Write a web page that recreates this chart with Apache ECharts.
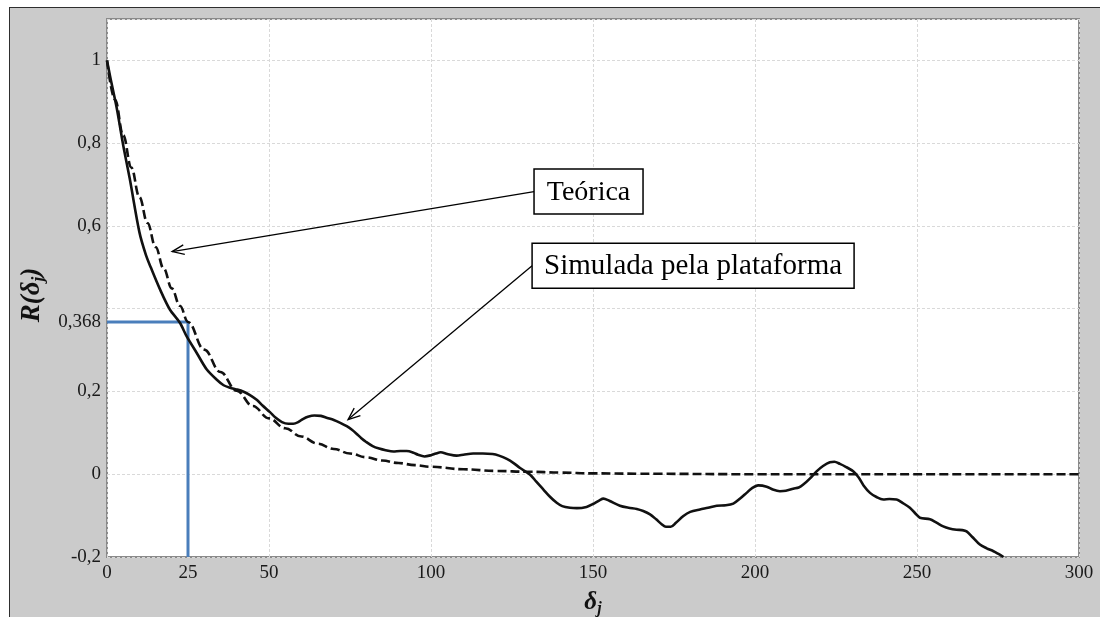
<!DOCTYPE html>
<html>
<head>
<meta charset="utf-8">
<script src="https://cdn.jsdelivr.net/npm/echarts@6/dist/echarts.min.js"></script>
<style>
  html, body { margin: 0; padding: 0; background: #fff; }
  #wrap { position: relative; width: 1100px; height: 617px; overflow: hidden; }
  #bg { position: absolute; left: 9px; top: 7px; right: -5px; bottom: -5px;
        background: #cbcbcb; border-left: 1px solid #2e2e2e; border-top: 1px solid #2e2e2e; }
  #chart { position: absolute; left: 0; top: 0; width: 1100px; height: 617px; }
</style>
</head>
<body>
<div id="wrap"><div id="bg"></div><div id="chart"></div></div>
<script>
// Autocorrelation R(δj): theoretical exponential decay vs. platform simulation
const lagTheory = [0, 2.5, 5, 7.5, 10, 12.5, 15, 17.5, 20, 22.5, 25, 30, 35, 40, 45, 50, 55, 60, 65, 70, 75, 80, 85, 90, 95, 100, 110, 120, 130, 140, 150, 170, 200, 250, 300];
const rTheory   = [1, 0.905, 0.819, 0.741, 0.670, 0.607, 0.549, 0.497, 0.449, 0.407, 0.368, 0.301, 0.247, 0.202, 0.165, 0.135, 0.111, 0.091, 0.074, 0.061, 0.050, 0.041, 0.033, 0.027, 0.022, 0.018, 0.012, 0.008, 0.006, 0.004, 0.002, 0.001, 0, 0, 0];

const lagSim = [0, 1, 3, 5, 7, 10, 12, 13.5, 16.4, 19.4, 22.5, 24.6, 27.7, 30.8, 33.8, 36, 38, 40, 42, 44, 46.2, 48, 50.3, 52, 54, 56, 57.5, 59, 60.6, 62, 64, 66, 68, 70, 72, 74, 75.5, 77, 78.5, 80, 82, 84, 86, 88.4, 90.5, 92.5, 94.6, 96, 98, 100, 101.5, 103, 105, 107.9, 110, 113, 116, 119, 121, 123.4, 125.5, 127.5, 130.6, 132.5, 134.7, 136.8, 138.8, 140.5, 142.9, 145, 148, 150, 152, 153.2, 155, 158.3, 161, 163.5, 165.5, 167.6, 169.5, 171.2, 172.5, 174, 175.5, 177.9, 180, 183, 185.5, 188.2, 191, 193.3, 195.5, 197.4, 199, 201, 203.6, 205.5, 207.7, 209.5, 211.8, 213.5, 214.9, 217, 219, 221, 223.1, 224.5, 226.2, 228, 230.3, 232, 233.5, 235.5, 237.5, 239.6, 241.5, 243.7, 245.5, 247.8, 249.5, 250.9, 254, 256, 258.1, 260, 262.2, 264, 265.3, 267, 269.4, 271.5, 273.6, 275, 276.7];
const rSim   = [1, 0.96, 0.885, 0.795, 0.715, 0.585, 0.53, 0.50, 0.446, 0.398, 0.366, 0.333, 0.293, 0.253, 0.229, 0.215, 0.209, 0.205, 0.200, 0.192, 0.180, 0.166, 0.150, 0.137, 0.126, 0.122, 0.122, 0.126, 0.134, 0.139, 0.142, 0.141, 0.136, 0.131, 0.124, 0.116, 0.108, 0.098, 0.087, 0.078, 0.068, 0.062, 0.058, 0.055, 0.056, 0.056, 0.052, 0.047, 0.043, 0.046, 0.050, 0.053, 0.049, 0.045, 0.047, 0.050, 0.050, 0.049, 0.045, 0.037, 0.027, 0.015, -0.001, -0.018, -0.037, -0.055, -0.069, -0.077, -0.081, -0.082, -0.079, -0.072, -0.063, -0.059, -0.064, -0.076, -0.081, -0.084, -0.089, -0.097, -0.109, -0.121, -0.127, -0.127, -0.118, -0.101, -0.091, -0.085, -0.081, -0.076, -0.075, -0.071, -0.058, -0.045, -0.034, -0.027, -0.030, -0.037, -0.041, -0.040, -0.035, -0.032, -0.025, -0.010, 0.007, 0.020, 0.029, 0.030, 0.025, 0.018, 0.007, -0.008, -0.027, -0.045, -0.055, -0.061, -0.060, -0.061, -0.069, -0.081, -0.095, -0.105, -0.109, -0.117, -0.126, -0.131, -0.134, -0.135, -0.138, -0.151, -0.170, -0.179, -0.186, -0.192, -0.200];

// Correlation length marker: R = 1/e at δ = 25
const refLag = 25;
const refR = 0.368;

const xLabelValues = [0, 25, 50, 100, 150, 200, 250, 300];
const yLabelValues = [-0.2, 0, 0.2, 0.368, 0.6, 0.8, 1];

const annTheory = { text: 'Teórica', anchor: [131.8, 0.683], tip: [20.1, 0.538] };
const annSim = { text: 'Simulada pela plataforma', anchor: [131.2, 0.504], tip: [74.4, 0.132] };

const SERIF = '"Liberation Serif", "Times New Roman", serif';

function fmtComma(v) {
  if (Math.abs(v - 0.368) < 1e-6) return '0,368';
  const r = Math.round(v * 10) / 10;
  return String(r === 0 ? 0 : r).replace('.', ',');
}

const chart = echarts.init(document.getElementById('chart'), null, { renderer: 'canvas' });

const option = {
  backgroundColor: 'transparent',
  animation: false,
  grid: {
    left: 107, right: 21, top: 19, bottom: 60,
    show: true, backgroundColor: '#ffffff',
    borderColor: '#8a8a8a', borderWidth: 2,
    outerBoundsMode: 'none'
  },
  xAxis: {
    type: 'value', min: 0, max: 300, interval: 50,
    axisLine: { show: false }, axisTick: { show: false },
    axisLabel: {
      customValues: xLabelValues,
      color: '#1a1a1a', fontFamily: SERIF, fontSize: 19, margin: 7,
      formatter: v => String(v)
    },
    splitLine: { show: true, lineStyle: { color: '#d9d9d9', width: 1, type: [3, 2] } },
    name: '{d|δ}{s|j}',
    nameLocation: 'middle', nameGap: 32,
    nameTextStyle: {
      rich: {
        d: { fontFamily: SERIF, fontSize: 25, fontWeight: 'bold', fontStyle: 'italic', color: '#111', lineHeight: 28 },
        s: { fontFamily: SERIF, fontSize: 16, fontWeight: 'bold', fontStyle: 'italic', color: '#111', lineHeight: 14, verticalAlign: 'bottom' }
      }
    }
  },
  yAxis: {
    type: 'value', min: -0.2, max: 1.1, interval: 0.2,
    axisLine: { show: false }, axisTick: { show: false },
    axisLabel: {
      customValues: yLabelValues,
      color: '#1a1a1a', fontFamily: SERIF, fontSize: 19, margin: 6,
      formatter: v => fmtComma(v)
    },
    splitLine: { show: true, lineStyle: { color: '#d9d9d9', width: 1, type: [3, 2] } },
    name: '{r|R(δ}{s|j}{r|)}',
    nameLocation: 'middle', nameGap: 55, nameRotate: 90,
    nameTextStyle: {
      padding: [0, 14, 0, 0],
      rich: {
        r: { fontFamily: SERIF, fontSize: 27, fontWeight: 'bold', fontStyle: 'italic', color: '#111', lineHeight: 30 },
        s: { fontFamily: SERIF, fontSize: 17, fontWeight: 'bold', fontStyle: 'italic', color: '#111', lineHeight: 15, verticalAlign: 'bottom' }
      }
    }
  },
  series: [
    {
      name: 'ref',
      type: 'line',
      data: [[0, refR], [refLag, refR], [refLag, -0.2]],
      symbol: 'none',
      lineStyle: { color: '#4a7ebb', width: 3 },
      z: 1
    },
    {
      name: 'Teórica',
      type: 'line',
      data: lagTheory.map((x, i) => [x, rTheory[i]]),
      symbol: 'none',
      smooth: 0.4,
      smoothMonotone: 'x',
      lineStyle: { color: '#111', width: 2.6, type: [9, 4] },
      z: 2
    },
    {
      name: 'Simulada pela plataforma',
      type: 'line',
      data: lagSim.map((x, i) => [x, rSim[i]]),
      symbol: 'none',
      smooth: 0.3,
      lineStyle: { color: '#111', width: 2.6 },
      z: 3
    }
  ]
};

chart.setOption(option);

// Callout boxes with open-headed arrows, positioned through the grid's scales
function callout(ann, boxWidth, fontSize) {
  const a = chart.convertToPixel({ gridIndex: 0 }, ann.anchor);
  const b = chart.convertToPixel({ gridIndex: 0 }, ann.tip);
  const ang = Math.atan2(a[1] - b[1], a[0] - b[0]);
  const L = 13, spread = 0.38;
  const w1 = [b[0] + L * Math.cos(ang + spread), b[1] + L * Math.sin(ang + spread)];
  const w2 = [b[0] + L * Math.cos(ang - spread), b[1] + L * Math.sin(ang - spread)];
  const h = 45;
  return [
    { type: 'line', shape: { x1: a[0], y1: a[1], x2: b[0], y2: b[1] },
      style: { stroke: '#000', lineWidth: 1.3 }, z: 10 },
    { type: 'polyline', shape: { points: [w1, b, w2] },
      style: { stroke: '#000', lineWidth: 1.3, fill: null }, z: 10 },
    { type: 'rect', shape: { x: a[0], y: a[1] - h / 2, width: boxWidth, height: h },
      style: { fill: '#fff', stroke: '#000', lineWidth: 1.5 }, z: 11 },
    { type: 'text', x: a[0] + boxWidth / 2, y: a[1] + 1,
      style: { text: ann.text, font: fontSize + 'px ' + SERIF, fill: '#000', align: 'center', verticalAlign: 'middle' }, z: 12 }
  ];
}

chart.setOption({
  graphic: [].concat(callout(annTheory, 109, 28), callout(annSim, 322, 29))
});
</script>
</body>
</html>
